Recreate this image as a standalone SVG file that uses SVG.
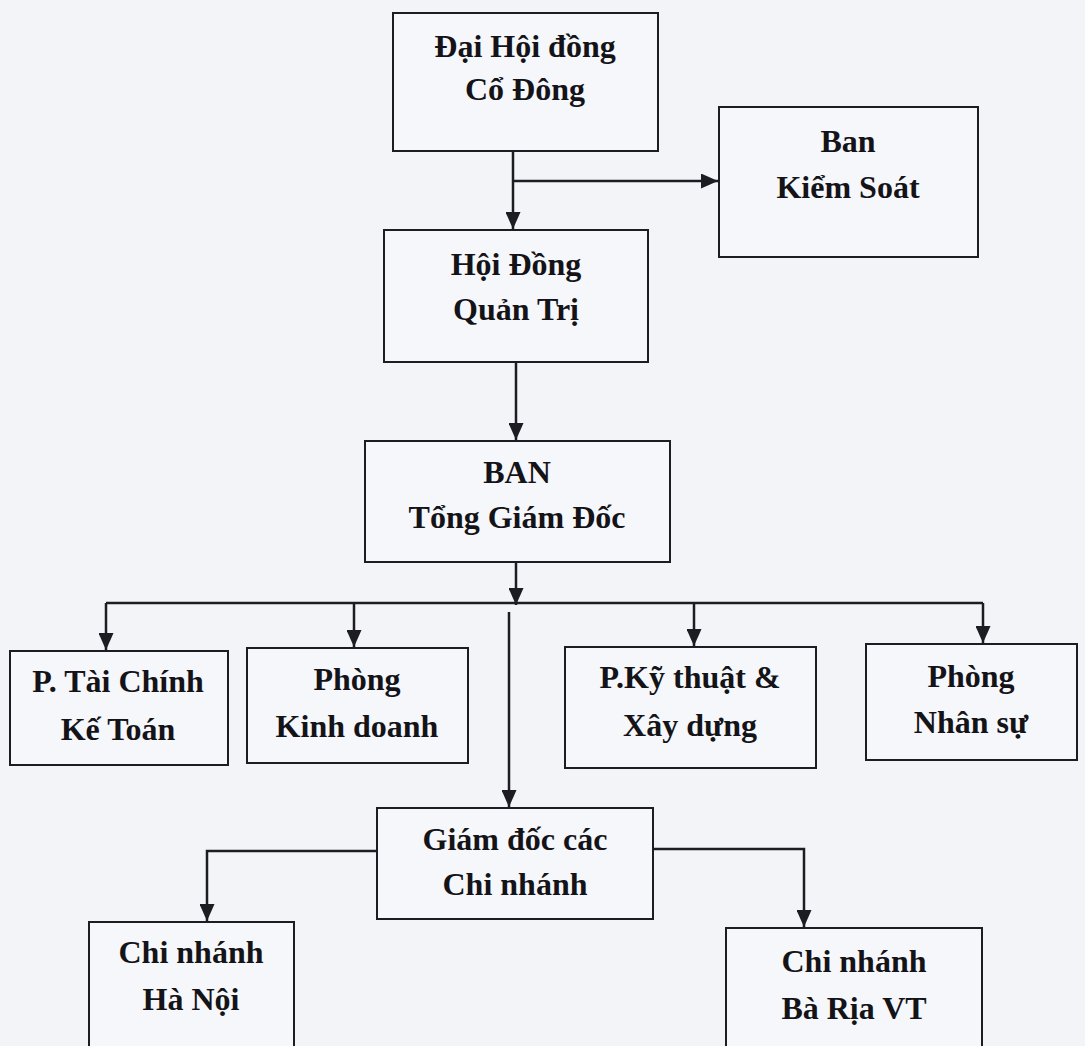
<svg xmlns="http://www.w3.org/2000/svg" width="1085" height="1046" viewBox="0 0 1085 1046">
  <style>
    .box { fill: #f6f7fb; stroke: #1c1c22; stroke-width: 2; }
    .lbl { font-family: "Liberation Serif", "Times New Roman", serif; font-weight: bold; font-size: 32px; fill: #141418; text-anchor: middle; }
    .con { fill: none; stroke: #1c1c22; stroke-width: 2.5; }
  </style>
  <defs>
    <marker id="arr" markerUnits="userSpaceOnUse" markerWidth="17" markerHeight="15" refX="17" refY="7.5" orient="auto">
      <path d="M0,0 L17,7.5 L0,15 z" fill="#1c1c22"/>
    </marker>
  </defs>
  <rect x="0" y="0" width="1085" height="1046" fill="#f2f4f8"/>

  <g id="connectors">
    <path class="con" d="M513,151 V229" marker-end="url(#arr)"/>
    <path class="con" d="M513,181 H718" marker-end="url(#arr)"/>
    <path class="con" d="M516,362 V440" marker-end="url(#arr)"/>
    <path class="con" d="M516,562 V605" marker-end="url(#arr)"/>
    <path class="con" d="M106,603 H983"/>
    <path class="con" d="M106,603 V650" marker-end="url(#arr)"/>
    <path class="con" d="M354,603 V647" marker-end="url(#arr)"/>
    <path class="con" d="M694,603 V646" marker-end="url(#arr)"/>
    <path class="con" d="M983,603 V643" marker-end="url(#arr)"/>
    <path class="con" d="M509,612 V807" marker-end="url(#arr)"/>
    <path class="con" d="M377,851 H207 V921" marker-end="url(#arr)"/>
    <path class="con" d="M653,849 H804 V927" marker-end="url(#arr)"/>
  </g>

  <g id="dai-hoi-dong">
    <rect class="box" x="393" y="13" width="265" height="138"/>
    <text class="lbl" x="525" y="57">Đại Hội đồng</text>
    <text class="lbl" x="525" y="100">Cổ Đông</text>
  </g>
  <g id="ban-kiem-soat">
    <rect class="box" x="719" y="107" width="259" height="150"/>
    <text class="lbl" x="848" y="152">Ban</text>
    <text class="lbl" x="848" y="198">Kiểm Soát</text>
  </g>
  <g id="hoi-dong-quan-tri">
    <rect class="box" x="384" y="230" width="264" height="132"/>
    <text class="lbl" x="516" y="275">Hội Đồng</text>
    <text class="lbl" x="516" y="320">Quản Trị</text>
  </g>
  <g id="ban-tong-giam-doc">
    <rect class="box" x="365" y="441" width="305" height="121"/>
    <text class="lbl" x="517" y="483">BAN</text>
    <text class="lbl" x="517" y="528">Tổng Giám Đốc</text>
  </g>
  <g id="tai-chinh-ke-toan">
    <rect class="box" x="10" y="651" width="218" height="114"/>
    <text class="lbl" x="118" y="692">P. Tài Chính</text>
    <text class="lbl" x="118" y="740">Kế Toán</text>
  </g>
  <g id="kinh-doanh">
    <rect class="box" x="247" y="648" width="221" height="115"/>
    <text class="lbl" x="357" y="690">Phòng</text>
    <text class="lbl" x="357" y="737">Kinh doanh</text>
  </g>
  <g id="ky-thuat-xay-dung">
    <rect class="box" x="565" y="647" width="251" height="121"/>
    <text class="lbl" x="690" y="688">P.Kỹ thuật &amp;</text>
    <text class="lbl" x="690" y="736">Xây dựng</text>
  </g>
  <g id="nhan-su">
    <rect class="box" x="866" y="644" width="211" height="116"/>
    <text class="lbl" x="971" y="687">Phòng</text>
    <text class="lbl" x="971" y="733">Nhân sự</text>
  </g>
  <g id="giam-doc-chi-nhanh">
    <rect class="box" x="377" y="808" width="276" height="111"/>
    <text class="lbl" x="515" y="850">Giám đốc các</text>
    <text class="lbl" x="515" y="895">Chi nhánh</text>
  </g>
  <g id="chi-nhanh-ha-noi">
    <rect class="box" x="89" y="922" width="205" height="140"/>
    <text class="lbl" x="191" y="963">Chi nhánh</text>
    <text class="lbl" x="191" y="1010">Hà Nội</text>
  </g>
  <g id="chi-nhanh-ba-ria">
    <rect class="box" x="726" y="928" width="256" height="140"/>
    <text class="lbl" x="854" y="972">Chi nhánh</text>
    <text class="lbl" x="854" y="1019">Bà Rịa VT</text>
  </g>
</svg>
